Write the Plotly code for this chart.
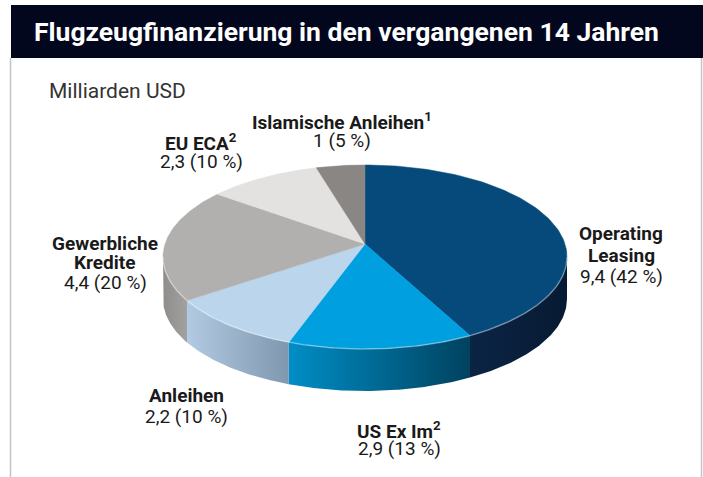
import numpy as np
import plotly.graph_objects as go

# ---- data ----
categories = ["Operating Leasing", "US Ex Im", "Anleihen", "Gewerbliche Kredite", "EU ECA", "Islamische Anleihen"]
values = [9.4, 2.9, 2.2, 4.4, 2.3, 1.0]
percents = [42, 13, 10, 20, 10, 5]
title_lines = [["Operating", "Leasing"], ["US Ex Im<sup>2</sup>"], ["Anleihen"],
               ["Gewerbliche", "Kredite"], ["EU ECA<sup>2</sup>"], ["Islamische Anleihen<sup>1</sup>"]]

top_colors = ["#054a7b", "#009fdf", "#bad5ec", "#b2b0ae", "#e3e2e1", "#8a8684"]
side_scales = [
    [[0, "#0b2444"], [1, "#071a33"]],
    [[0, "#008ec6"], [1, "#00425f"]],
    [[0, "#b3cbe2"], [1, "#7f97af"]],
    [[0, "#8f8d8b"], [1, "#a3a19f"]],
    [[0, "#cfcecd"], [1, "#cfcecd"]],
    [[0, "#777"], [1, "#777"]],
]

# ---- geometry (pixel-like axes) ----
W, H = 703, 477
cx, cy, rx, ry = 365, 257, 202, 92
apex = (365.0, 244.0)
depth = 42

def ell(phi_deg, dy=0.0):
    p = np.radians(phi_deg)
    return cx + rx * np.cos(p), cy - ry * np.sin(p) + dy

def boundary_phi(t_deg):
    """Cast a ray from the apex (perspective centre) and return ellipse angle of the hit point."""
    t = np.radians(t_deg)
    dx, dy = rx * np.cos(t), -ry * np.sin(t)
    ox, oy = apex[0] - cx, apex[1] - cy
    A = (dx / rx) ** 2 + (dy / ry) ** 2
    B = 2 * (ox * dx / rx ** 2 + oy * dy / ry ** 2)
    C = (ox / rx) ** 2 + (oy / ry) ** 2 - 1
    s = (-B + np.sqrt(B * B - 4 * A * C)) / (2 * A)
    x, y = ox + s * dx, oy + s * dy
    phi = np.degrees(np.arctan2(-y / ry, x / rx))
    while phi > t_deg + 180:
        phi -= 360
    while phi < t_deg - 180:
        phi += 360
    return phi

total = sum(values)
starts, ends = [], []
a = 90.0
for v in values:
    starts.append(boundary_phi(a))
    a -= v / total * 360.0
    ends.append(boundary_phi(a))

fig = go.Figure()

# sides
for i in range(len(values)):
    t_hi = min(starts[i], 0.0)
    t_lo = max(ends[i], -180.0)
    if t_hi <= t_lo:
        continue
    ts = np.linspace(t_hi, t_lo, 80)
    xt, yt = ell(ts)
    xb, yb = ell(ts[::-1], depth)
    xs = np.concatenate([xt, xb, xt[:1]])
    ys = np.concatenate([yt, yb, yt[:1]])
    fig.add_trace(go.Scatter(x=xs, y=ys, mode="lines", line=dict(width=0),
                             fill="toself",
                             fillgradient=dict(type="horizontal", colorscale=side_scales[i]),
                             hoverinfo="skip", showlegend=False))

# top faces
for i in range(len(values)):
    ts = np.linspace(starts[i], ends[i], 120)
    xr, yr = ell(ts)
    xs = np.concatenate([[apex[0]], xr, [apex[0]]])
    ys = np.concatenate([[apex[1]], yr, [apex[1]]])
    fig.add_trace(go.Scatter(x=xs, y=ys, mode="lines", line=dict(width=0.5, color=top_colors[i]),
                             fill="toself", fillcolor=top_colors[i],
                             hoverinfo="skip", showlegend=False))

# rim highlight along front edge
ts = np.linspace(0, -180, 200)
xr, yr = ell(ts)
fig.add_trace(go.Scatter(x=xr, y=yr, mode="lines", line=dict(width=1.5, color="rgba(255,255,255,0.35)"),
                         hoverinfo="skip", showlegend=False))

# ---- labels ----
FONT = "Roboto, Liberation Sans, sans-serif"
label_pos = [(621, [233, 255], 276), (399, [430], 448), (186, [395], 416),
             (105, [243, 262], 282), (201, [142], 161), (342, [121], 140)]

def fmt(v):
    if float(v).is_integer():
        return str(int(v))
    return f"{v:.1f}".replace(".", ",")

annos = []
for i, (x, ys_lab, yv) in enumerate(label_pos):
    for txt, y in zip(title_lines[i], ys_lab):
        annos.append(dict(x=x, y=y, xref="x", yref="y", text=f"<b>{txt}</b>", showarrow=False,
                          xanchor="center", yanchor="middle",
                          font=dict(family=FONT, size=19, color="#1a1a1a")))
    annos.append(dict(x=x, y=yv, xref="x", yref="y", text=f"{fmt(values[i])} ({percents[i]} %)",
                      showarrow=False, xanchor="center", yanchor="middle",
                      font=dict(family=FONT, size=19, color="#1a1a1a")))

annos.append(dict(x=47, y=91, xref="x", yref="y", text="Milliarden USD", showarrow=False,
                  xanchor="left", yanchor="middle", font=dict(family=FONT, size=21, color="#333333")))
annos.append(dict(x=32, y=31, xref="x", yref="y", text="<b>Flugzeugfinanzierung in den vergangenen 14 Jahren</b>",
                  showarrow=False, xanchor="left", yanchor="middle",
                  font=dict(family=FONT, size=26.5, color="#ffffff")))

shapes = [
    dict(type="rect", xref="x", yref="y", x0=11, x1=703, y0=5, y1=58, fillcolor="#03071e", line=dict(width=0), layer="below"),
    dict(type="line", xref="x", yref="y", x0=10.5, x1=10.5, y0=58, y1=477, line=dict(color="#c4c4c4", width=1.5)),
    dict(type="line", xref="x", yref="y", x0=701.5, x1=701.5, y0=58, y1=477, line=dict(color="#c4c4c4", width=1.5)),
]

fig.update_layout(
    width=W, height=H, margin=dict(l=0, r=0, t=0, b=0),
    paper_bgcolor="white", plot_bgcolor="white",
    xaxis=dict(range=[0, W], visible=False, fixedrange=True),
    yaxis=dict(range=[H, 0], visible=False, fixedrange=True),
    annotations=annos, shapes=shapes, showlegend=False,
)

fig.write_html("out.html", config={"displayModeBar": False},
               post_script="document.body.style.margin='0px';")
